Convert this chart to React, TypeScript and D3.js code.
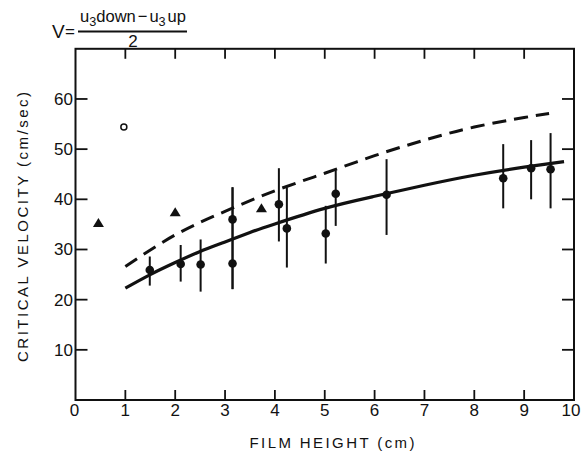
import React from "react";
import * as d3 from "d3";

const xTicks = [0, 1, 2, 3, 4, 5, 6, 7, 8, 9, 10];
const yTicks = [0, 10, 20, 30, 40, 50, 60];
const yLabelTicks = [10, 20, 30, 40, 50, 60];

// filled circles with error bars: x, y, low, high
const pointX = [1.49, 2.11, 2.51, 3.15, 3.15, 4.08, 4.24, 5.02, 5.22, 6.24, 8.58, 9.14, 9.53];
const pointY = [25.9, 27.1, 27.0, 36.0, 27.2, 39.0, 34.2, 33.2, 41.1, 40.9, 44.2, 46.2, 46.0];
const pointLow = [22.8, 23.6, 21.6, 22.1, 22.1, 31.6, 26.4, 27.2, 34.7, 32.9, 38.2, 40.0, 38.2];
const pointHigh = [28.6, 30.9, 32.0, 42.4, 42.4, 46.2, 42.4, 38.7, 45.8, 48.0, 51.0, 51.8, 53.2];

const triX = [0.46, 2.0, 3.73];
const triY = [35.3, 37.4, 38.2];

const openX = [0.97];
const openY = [54.4];

const solidX = [1, 1.5, 2, 2.5, 3, 3.5, 4, 5, 6, 7, 8, 9, 9.8];
const solidY = [22.3, 25.0, 27.4, 29.6, 31.5, 33.4, 35.1, 38.2, 40.6, 42.8, 44.8, 46.4, 47.5];

const dashX = [1, 2, 3, 4, 5, 6, 7, 8, 9, 9.5];
const dashY = [26.6, 32.9, 37.6, 41.7, 45.2, 48.7, 51.8, 54.4, 56.3, 57.1];

export default function App() {
  const W = 583, H = 452;
  const x = d3.scaleLinear().domain([0, 10]).range([75.5, 574]);
  const y = d3.scaleLinear().domain([0, 70]).range([400, 48.8]);
  const line = d3
    .line<[number, number]>()
    .x((d) => x(d[0]))
    .y((d) => y(d[1]))
    .curve(d3.curveNatural);
  const solid = line(solidX.map((v, i) => [v, solidY[i]]) as [number, number][]) || "";
  const dashed = line(dashX.map((v, i) => [v, dashY[i]]) as [number, number][]) || "";
  const font = "'Liberation Sans', 'DejaVu Sans', sans-serif";
  const x0 = x(0), x1 = x(10), y0 = y(0), y1 = y(70);

  return (
    <svg
      width={W}
      height={H}
      style={{ position: "absolute", left: 0, top: 0, background: "#fff" }}
      fontFamily={font}
    >
      <rect x={0} y={0} width={W} height={H} fill="#fff" />
      {/* frame */}
      <rect x={x0} y={y1} width={x1 - x0} height={y0 - y1} fill="none" stroke="#111" strokeWidth={2} />
      {/* x ticks bottom & top */}
      {xTicks.slice(1, -1).map((t) => (
        <g key={"xt" + t}>
          <line x1={x(t)} x2={x(t)} y1={y0} y2={y0 - 10} stroke="#111" strokeWidth={1.8} />
          <line x1={x(t)} x2={x(t)} y1={y1} y2={y1 + 10} stroke="#111" strokeWidth={1.8} />
        </g>
      ))}
      {xTicks.map((t) => (
        <text
          key={"xl" + t}
          x={x(t) + (t === 10 ? -3 : t === 0 ? -1 : 0)}
          y={416}
          fontSize={17}
          textAnchor="middle"
          fill="#111"
        >
          {t}
        </text>
      ))}
      {/* y ticks left & right */}
      {yTicks.slice(1).map((t) => (
        <g key={"yt" + t}>
          <line x1={x0} x2={x0 + 12} y1={y(t)} y2={y(t)} stroke="#111" strokeWidth={1.8} />
          <line x1={x1} x2={x1 - 12} y1={y(t)} y2={y(t)} stroke="#111" strokeWidth={1.8} />
        </g>
      ))}
      {yLabelTicks.map((t) => (
        <text key={"yl" + t} x={73} y={y(t) + 6} fontSize={17} textAnchor="end" fill="#111">
          {t}
        </text>
      ))}

      {/* axis titles */}
      <text
        transform={`translate(28, 227) rotate(-90)`}
        fontSize={15}
        textAnchor="middle"
        textLength={270}
        lengthAdjust="spacing"
        fill="#111"
      >
        CRITICAL VELOCITY (cm/sec)
      </text>
      <text x={332} y={448} fontSize={15} textAnchor="middle" textLength={165} lengthAdjust="spacing" fill="#111">
        FILM HEIGHT (cm)
      </text>

      {/* formula */}
      <text x={52} y={38} fontSize={19} fill="#111">V</text>
      <text x={65} y={37} fontSize={17} fill="#111">=</text>
      <text x={80} y={22} fontSize={17} fill="#111" textLength={106} lengthAdjust="spacingAndGlyphs">
        u<tspan dy={4} fontSize={13}>3</tspan>
        <tspan dy={-4}>down</tspan>
        <tspan dx={2}>−</tspan>
        <tspan dx={2}>u</tspan>
        <tspan dy={4} fontSize={13}>3</tspan>
        <tspan dy={-4} dx={2}>up</tspan>
      </text>
      <line x1={78} x2={187} y1={31.5} y2={31.5} stroke="#111" strokeWidth={1.8} />
      <text x={133} y={47} fontSize={17} textAnchor="middle" fill="#111">2</text>

      {/* curves */}
      <path d={solid} fill="none" stroke="#111" strokeWidth={3.2} />
      <path d={dashed} fill="none" stroke="#111" strokeWidth={3} strokeDasharray="14 8" />

      {/* error bars & points */}
      {pointX.map((v, i) => (
        <line
          key={"eb" + i}
          x1={x(v)}
          x2={x(v)}
          y1={y(pointLow[i])}
          y2={y(pointHigh[i])}
          stroke="#111"
          strokeWidth={2}
        />
      ))}
      {pointX.map((v, i) => (
        <circle key={"pt" + i} cx={x(v)} cy={y(pointY[i])} r={4.3} fill="#111" />
      ))}
      {triX.map((v, i) => {
        const cx = x(v), cy = y(triY[i]);
        return (
          <path
            key={"tr" + i}
            d={`M${cx},${cy - 5} L${cx + 5.5},${cy + 4} L${cx - 5.5},${cy + 4} Z`}
            fill="#111"
          />
        );
      })}
      {openX.map((v, i) => (
        <circle key={"op" + i} cx={x(v)} cy={y(openY[i])} r={3} fill="none" stroke="#111" strokeWidth={1.5} />
      ))}
    </svg>
  );
}
